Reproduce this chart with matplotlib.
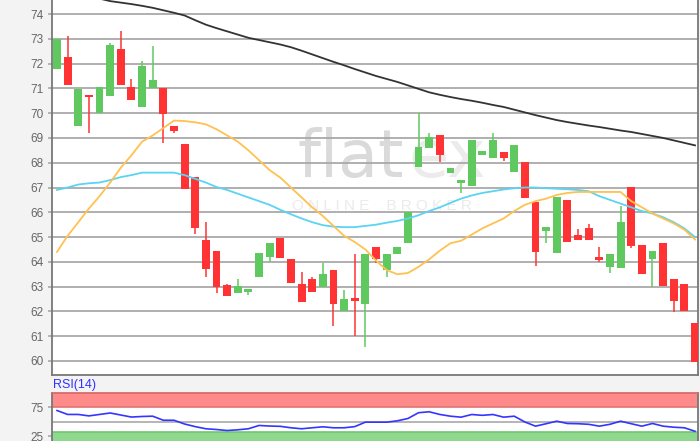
import numpy as np
import matplotlib.pyplot as plt

# daily candles
opens = [71.78, 72.27, 69.47, 70.73, 70.0, 70.7, 72.58, 71.06, 70.25, 71.0,
         71.0, 69.48, 68.75, 67.43, 64.9, 64.45, 63.07, 62.75, 62.8, 63.4,
         64.2, 64.97, 64.12, 63.1, 63.3, 62.98, 63.67, 62.0, 62.55, 62.3,
         64.6, 63.67, 64.3, 64.77, 67.83, 68.6, 69.12, 67.6, 67.18, 67.06,
         68.32, 68.2, 68.45, 67.63, 68.03, 66.42, 65.25, 64.37, 66.5, 65.08,
         65.37, 64.2, 63.8, 63.75, 67.0, 64.7, 64.1, 64.75, 63.3, 63.1, 61.52]
highs = [73.0, 73.1, 70.98, 70.75, 71.06, 72.85, 73.33, 71.38, 72.1, 72.7,
         71.0, 69.48, 68.75, 67.43, 65.6, 64.45, 63.1, 63.3, 62.9, 64.37,
         64.77, 64.97, 64.12, 63.6, 63.38, 63.96, 63.67, 62.87, 64.3, 64.3,
         64.6, 64.3, 64.6, 66.0, 70.0, 69.2, 69.12, 67.8, 67.3, 68.92,
         68.48, 69.2, 68.45, 68.7, 68.03, 66.42, 65.4, 66.63, 66.5, 65.33,
         65.53, 64.6, 64.32, 66.25, 67.0, 64.7, 64.45, 64.75, 63.3, 63.1, 61.52]
lows = [71.78, 71.15, 69.47, 69.2, 70.0, 70.7, 71.15, 70.53, 70.25, 71.0,
        68.78, 69.2, 66.95, 65.13, 63.4, 62.75, 62.63, 62.75, 62.67, 63.4,
        64.0, 64.16, 63.15, 62.38, 62.8, 62.98, 61.42, 62.0, 61.0, 60.57,
        63.96, 63.4, 64.3, 64.77, 67.83, 68.6, 68.03, 67.6, 66.78, 67.06,
        68.32, 68.2, 68.08, 67.63, 66.58, 63.84, 64.77, 64.37, 64.8, 64.9,
        64.88, 64.0, 63.55, 63.75, 64.55, 63.5, 63.0, 63.03, 61.97, 62.0, 59.97]
closes = [73.0, 71.15, 70.98, 70.65, 71.06, 72.75, 71.15, 70.53, 71.9, 71.33,
          69.95, 69.27, 66.95, 65.37, 63.72, 62.98, 62.63, 63.03, 62.9, 64.37,
          64.77, 64.16, 63.15, 62.38, 62.8, 63.5, 62.3, 62.5, 62.43, 64.3,
          64.12, 64.3, 64.6, 66.0, 68.63, 69.03, 68.3, 67.8, 67.3, 68.92,
          68.48, 68.92, 68.2, 68.7, 66.58, 64.4, 65.4, 66.63, 64.8, 64.9,
          64.88, 64.08, 64.32, 65.6, 64.65, 63.5, 64.45, 63.03, 62.43, 62.0, 59.97]

# long average (black) starts at candle 4
ma_long_start = 4
ma_long = [74.62, 74.52, 74.46, 74.4, 74.33, 74.25, 74.15, 74.05, 73.94, 73.75,
           73.57, 73.43, 73.3, 73.17, 73.04, 72.95, 72.86, 72.77, 72.66, 72.52,
           72.37, 72.22, 72.07, 71.93, 71.78, 71.64, 71.5, 71.38, 71.26, 71.12,
           70.98, 70.84, 70.74, 70.65, 70.57, 70.5, 70.42, 70.33, 70.25, 70.14,
           70.03, 69.92, 69.82, 69.72, 69.64, 69.57, 69.5, 69.44, 69.37, 69.3,
           69.24, 69.16, 69.08, 69.0, 68.9, 68.8, 68.7]
ma_mid = [66.9, 67.0, 67.12, 67.17, 67.2, 67.3, 67.42, 67.5, 67.6, 67.6,
          67.6, 67.6, 67.5, 67.35, 67.2, 67.02, 66.9, 66.75, 66.6, 66.45,
          66.3, 66.1, 65.92, 65.75, 65.6, 65.48, 65.42, 65.4, 65.4, 65.45,
          65.5, 65.58, 65.65, 65.75, 65.88, 66.05, 66.2, 66.38, 66.55, 66.68,
          66.78, 66.85, 66.92, 66.97, 67.0, 67.0, 66.97, 66.95, 66.93, 66.9,
          66.85, 66.65, 66.5, 66.35, 66.2, 66.05, 65.95, 65.8, 65.6, 65.35, 65.0]
ma_short = [64.4, 65.05, 65.6, 66.15, 66.65, 67.2, 67.8, 68.3, 68.85, 69.1,
            69.4, 69.7, 69.68, 69.63, 69.55, 69.35, 69.1, 68.85, 68.5, 68.1,
            67.7, 67.4, 67.0, 66.6, 66.2, 65.85, 65.45, 65.05, 64.8, 64.5,
            64.05, 63.67, 63.5, 63.55, 63.8, 64.1, 64.45, 64.75, 64.85, 65.1,
            65.35, 65.55, 65.75, 66.05, 66.3, 66.45, 66.55, 66.7, 66.78, 66.82,
            66.82, 66.82, 66.82, 66.82, 66.45, 66.2, 65.95, 65.75, 65.55, 65.3, 64.9]
rsi = [69.8, 63, 63, 60.5, 63, 65.5, 62, 58.5, 59.5, 60,
       53, 53, 46.5, 42, 38.3, 37, 35.3, 36.5, 38.3, 44,
       43, 42.5, 40, 38.3, 40, 41.7, 40, 40, 42, 49.7,
       49.7, 49.7, 52, 56, 66, 67.6, 63, 60, 58.3, 62.9,
       61.5, 62.9, 58.3, 60, 50, 42.8, 47, 51.4, 47.4, 47,
       46, 42.8, 46, 51.4, 47, 42.8, 47.4, 42.8, 41, 40, 34]

price_ticks = list(range(60, 75))
rsi_ticks = [25, 75]

W, H = 700, 441
fig = plt.figure(figsize=(W / 100, H / 100), dpi=100, facecolor='#f3f3f3')
plt.rcParams['font.family'] = ['Liberation Sans', 'DejaVu Sans']

def px_box(x0, y0, x1, y1):
    return [x0 / W, 1 - y1 / H, (x1 - x0) / W, (y1 - y0) / H]

ax = fig.add_axes(px_box(52, 0, 698, 375))
ax2 = fig.add_axes(px_box(52, 393, 698, 441))

x = np.arange(len(opens))
o = np.array(opens); c = np.array(closes)
up = c >= o
cols = np.where(up, '#5fc95f', '#ff3333')
body_lo = np.minimum(o, c)
body_h = np.maximum(np.abs(c - o), 0.1)

ax.vlines(x, lows, highs, colors=cols, lw=1.1, zorder=3)
ax.bar(x, body_h, bottom=body_lo, width=0.74, color=cols, zorder=4)

ax.plot(np.arange(ma_long_start, ma_long_start + len(ma_long)), ma_long,
        color='#333333', lw=1.3, zorder=5)
ax.plot(x, ma_mid, color='#5ad4f2', lw=1.3, zorder=5)
ax.plot(x, ma_short, color='#ffc14f', lw=1.3, zorder=5)

# watermark
ax.text(0.545, 0.575, 'flat', transform=ax.transAxes, ha='right', va='center',
        fontsize=47, color='#dadada', family='DejaVu Sans', zorder=0.5)
ax.text(0.552, 0.575, 'ex', transform=ax.transAxes, ha='left', va='center',
        fontsize=47, color='#ebebeb', family='DejaVu Sans', zorder=0.5)
ax.text(0.51, 0.45, 'O N L I N E    B R O K E R', transform=ax.transAxes,
        ha='center', va='center', fontsize=11, color='#ebebeb', zorder=0.5)

ax.set_xlim(-0.47, 60.28)
ax.set_ylim(59.435, 74.565)
ax.set_yticks(price_ticks)
ax.set_xticks([])
ax.yaxis.grid(True, color='#a9a9a9', lw=1.3, zorder=1)
ax.set_axisbelow(True)
ax.tick_params(axis='y', length=3, width=1.2, color='#a9a9a9',
               labelcolor='#666666', labelsize=8.5, pad=3)
ax.spines['top'].set_visible(False)
for s in ['left', 'bottom', 'right']:
    ax.spines[s].set_color('#777777')
    ax.spines[s].set_linewidth(1.3)

# RSI panel
ax2.axhspan(75, 100, color='#ff8a8a', lw=0, zorder=0)
ax2.axhline(75, color='#e27474', lw=1.2, zorder=1)
ax2.axhspan(0, 32, color='#8fd98f', lw=0, zorder=0)
ax2.axhline(32, color='#74c474', lw=1.2, zorder=1)
ax2.axhline(50, color='#a9a9a9', lw=1.2, zorder=1)
ax2.plot(x, rsi, color='#3535ff', lw=1.2, zorder=3)
ax2.set_xlim(-0.47, 60.28)
ax2.set_ylim(17.2, 100)
ax2.set_yticks(rsi_ticks)
ax2.set_xticks([])
ax2.tick_params(axis='y', length=3, width=1.2, color='#a9a9a9',
                labelcolor='#666666', labelsize=8.5, pad=3)
ax2.spines['bottom'].set_visible(False)
ax2.spines['top'].set_color('#d86a6a')
ax2.spines['top'].set_linewidth(1.3)
for s in ['left', 'right']:
    ax2.spines[s].set_color('#777777')
    ax2.spines[s].set_linewidth(1.3)

fig.text(53 / W, 1 - 385 / H, 'RSI(14)', color='#3030ff', fontsize=9,
         ha='left', va='center')

fig.savefig('out.png', dpi=100, facecolor=fig.get_facecolor())
